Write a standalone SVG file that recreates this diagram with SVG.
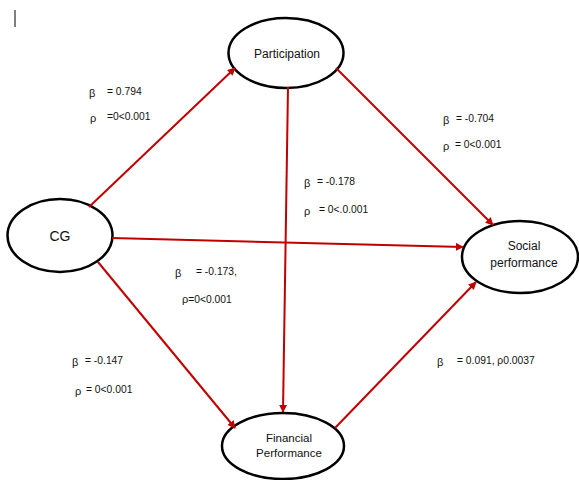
<svg xmlns="http://www.w3.org/2000/svg" width="579" height="480" viewBox="0 0 579 480">
<defs>
<marker id="ah" viewBox="0 0 10 10" refX="9" refY="5" markerWidth="4" markerHeight="4" orient="auto" markerUnits="strokeWidth">
<path d="M0,0 L10,5 L0,10 z" fill="#c00000"/>
</marker>
<style>
.node ellipse{fill:#fff;stroke:#000;stroke-width:2.5}
.node text{font-family:"Liberation Sans",Arial,sans-serif;font-size:12px;fill:#111;text-anchor:middle}
.edge{stroke:#c00000;stroke-width:2;fill:none;marker-end:url(#ah)}
.lbl{font-family:"Liberation Sans",Arial,sans-serif;font-size:10.3px;fill:#111}
.gr{font-family:"Liberation Sans",Arial,sans-serif;font-size:11px;fill:#111}
</style>
</defs>
<rect width="579" height="480" fill="#fff"/>
<line x1="15" y1="10" x2="15" y2="27" stroke="#000" stroke-width="1"/>
<g id="participation" class="node">
<ellipse cx="286" cy="53" rx="57.5" ry="35"/>
<text x="287" y="58">Participation</text>
</g>
<g id="cg" class="node">
<ellipse cx="60" cy="235.5" rx="52.5" ry="36.5"/>
<text x="60" y="240.5" style="font-size:14px">CG</text>
</g>
<g id="social" class="node">
<ellipse cx="520" cy="257" rx="58" ry="36"/>
<text x="524" y="250">Social</text>
<text x="524" y="267">performance</text>
</g>
<g id="financial" class="node">
<ellipse cx="283" cy="446" rx="61" ry="33"/>
<text x="289" y="442" style="font-size:11.5px">Financial</text>
<text x="289" y="457" style="font-size:11.5px">Performance</text>
</g>
<g id="connectors">
<line class="edge" x1="89" y1="207" x2="235" y2="68"/>
<line class="edge" x1="336" y1="68" x2="493" y2="225"/>
<line class="edge" x1="288" y1="87" x2="283" y2="412"/>
<line class="edge" x1="112" y1="238" x2="463" y2="247"/>
<line class="edge" x1="98" y1="262" x2="235" y2="428"/>
<line class="edge" x1="335" y1="428" x2="476" y2="282"/>
</g>
<g id="labels">
<text class="gr" x="89" y="97">β</text><text class="lbl" x="107" y="95">= 0.794</text>
<text class="gr" x="90" y="122">ρ</text><text class="lbl" x="107" y="120">=0&lt;0.001</text>
<text class="gr" x="443" y="124">β</text><text class="lbl" x="456" y="122">= -0.704</text>
<text class="gr" x="443" y="150">ρ</text><text class="lbl" x="455" y="148">= 0&lt;0.001</text>
<text class="gr" x="304" y="187">β</text><text class="lbl" x="317" y="185">= -0.178</text>
<text class="gr" x="304" y="215">ρ</text><text class="lbl" x="319" y="213">= 0&lt;.0.001</text>
<text class="gr" x="175" y="277">β</text><text class="lbl" x="196" y="275">= -0.173,</text>
<text class="lbl" x="182" y="303"><tspan style="font-size:11px">ρ</tspan>=0&lt;0.001</text>
<text class="gr" x="72" y="366">β</text><text class="lbl" x="85" y="364">= -0.147</text>
<text class="gr" x="75" y="395">ρ</text><text class="lbl" x="86" y="393">= 0&lt;0.001</text>
<text class="gr" x="437" y="366">β</text><text class="lbl" x="457" y="364">= 0.091, ρ0.0037</text>
</g>
</svg>
